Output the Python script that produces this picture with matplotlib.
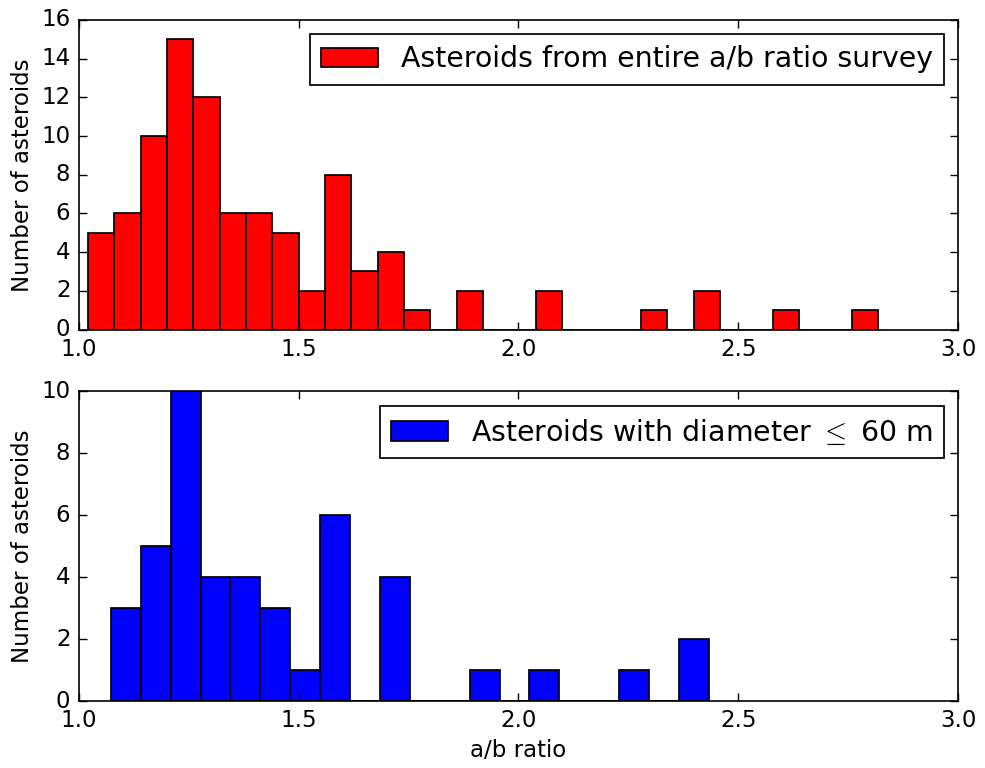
import numpy as np
import matplotlib
matplotlib.use("Agg")
import matplotlib.pyplot as plt

# Histogramme (antal pr. bin)
top_counts = [5, 6, 10, 15, 12, 6, 6, 5, 2, 8, 3, 4, 1, 0, 2,
              0, 0, 2, 0, 0, 0, 1, 0, 2, 0, 0, 1, 0, 0, 1]
top_range = (1.021, 2.818)
top_label = "Asteroids from entire a/b ratio survey"

bottom_counts = [3, 5, 10, 4, 4, 3, 1, 6, 0, 4,
                 0, 0, 1, 0, 1, 0, 0, 1, 0, 2]
bottom_range = (1.073, 2.433)
bottom_label = r"Asteroids with diameter $\leq$ 60 m"

x_ticks = [1.0, 1.5, 2.0, 2.5, 3.0]

plt.style.use("classic")
plt.rcParams["figure.facecolor"] = "white"
plt.rcParams["savefig.facecolor"] = "white"
plt.rcParams["font.family"] = "DejaVu Sans"
plt.rcParams["font.size"] = 16.5
plt.rcParams["legend.fontsize"] = 20.4
plt.rcParams["axes.linewidth"] = 1.2
plt.rcParams["legend.framealpha"] = 1.0
for ax_name in ("xtick", "ytick"):
    plt.rcParams[ax_name + ".major.size"] = 6
    plt.rcParams[ax_name + ".major.width"] = 1.0
    plt.rcParams[ax_name + ".major.pad"] = 6

fig, (ax1, ax2) = plt.subplots(2, 1, figsize=(9.85, 7.68), dpi=100)
fig.subplots_adjust(left=0.080, right=0.9726, top=0.974, bottom=0.0872, hspace=0.2)


def draw_hist(ax, counts, rng, color, label, ymax):
    edges = np.linspace(rng[0], rng[1], len(counts) + 1)
    ax.hist(edges[:-1], bins=edges, weights=counts, color=color,
            edgecolor="black", linewidth=1.25, label=label)
    ax.set_xlim(1.0, 3.0)
    ax.set_ylim(0, ymax)
    ax.set_xticks(x_ticks)
    ax.set_ylabel("Number of asteroids")
    leg = ax.legend(loc="upper right")
    leg.get_frame().set_linewidth(1.25)


draw_hist(ax1, top_counts, top_range, "red", top_label, 16)
draw_hist(ax2, bottom_counts, bottom_range, "blue", bottom_label, 10)
ax2.set_xlabel("a/b ratio")

fig.savefig("out.png", dpi=100)
